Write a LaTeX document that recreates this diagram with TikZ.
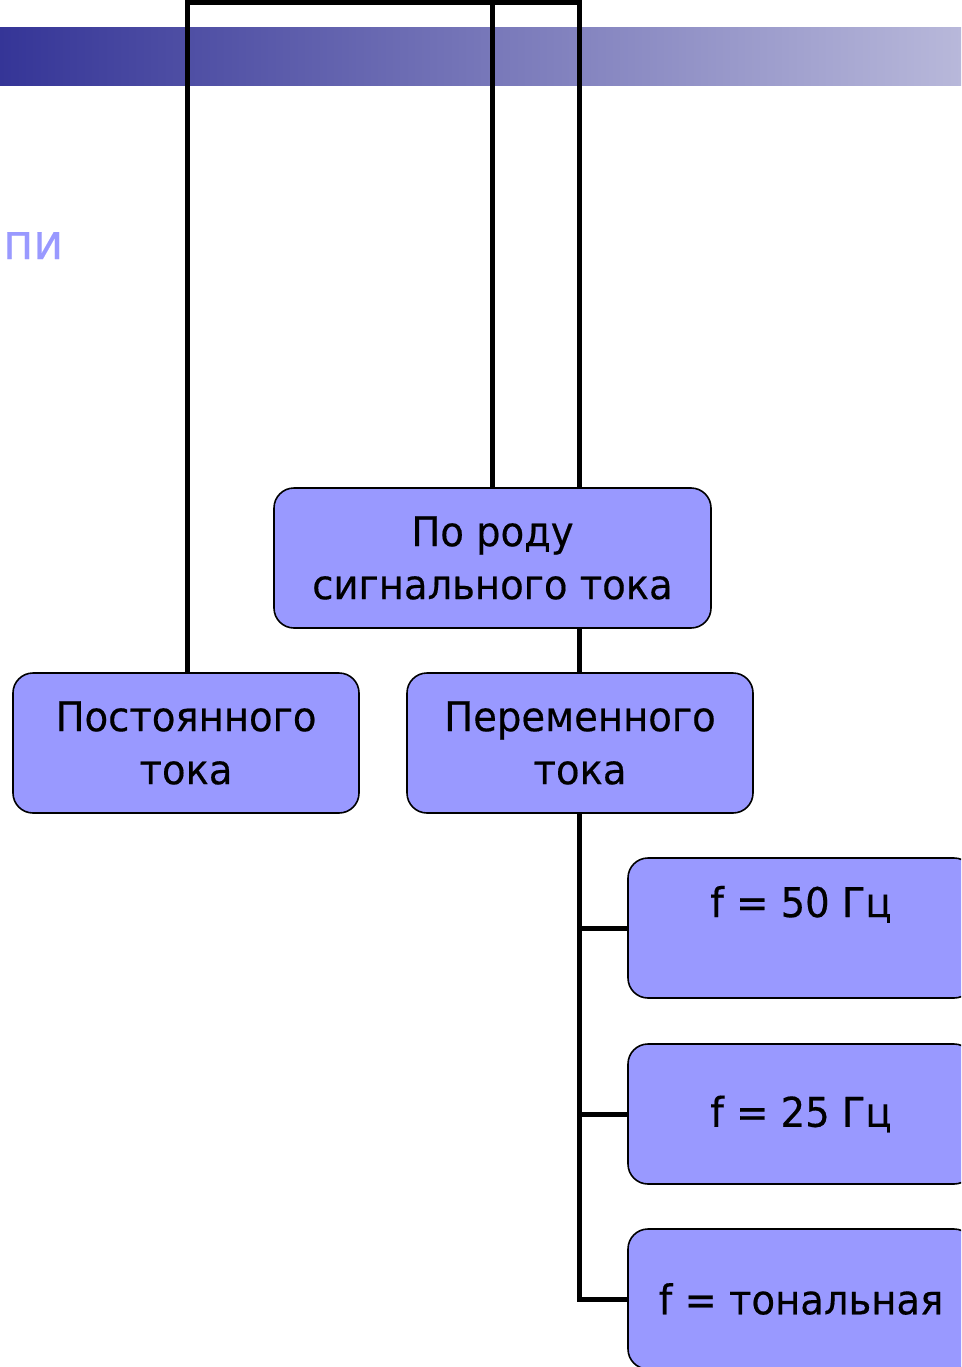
\documentclass[tikz,border=0pt]{standalone}
\usepackage{fontspec}
\setmainfont[FakeStretch=0.94,FakeBold=0.4]{DejaVu Sans}
\definecolor{boxfill}{HTML}{9999FF}
\definecolor{barleft}{HTML}{353597}
\definecolor{barright}{HTML}{B8B8DA}
\definecolor{pitext}{HTML}{9999FF}
\tikzset{
  box/.style={draw=black, line width=1.6pt, fill=boxfill, rounded corners=20pt,
    minimum width=346pt, minimum height=140pt, align=center, inner sep=0pt,
    font=\fontsize{41}{53}\selectfont},
  conn/.style={draw=black, line width=5pt},
}
\begin{document}
\begin{tikzpicture}[x=1pt,y=-1pt]
\useasboundingbox (0,0) rectangle (961,1367);
\clip (0,0) rectangle (961,1367);
\fill[left color=barleft, right color=barright] (0,28) rectangle (961,86);
\node[text=pitext, anchor=base west, inner sep=0pt, font=\fontsize{49}{60}\selectfont] (pi) at (3,259) {пи};

\node[box, minimum width=437pt] (rod) at (492.5,558) {По роду\\сигнального тока};
\node[box] (post) at (186,743) {Постоянного\\тока};
\node[box] (per) at (580,743) {Переменного\\тока};
\node[box] (f50) at (801,928) {f = 50 Гц\\\mbox{}};
\node[box] (f25) at (801,1114) {f = 25 Гц};
\node[box] (ft) at (801,1299) {f = тональная};

\coordinate (tl) at (187,3);
\coordinate (tm) at (492,3);
\coordinate (tr) at (579,3);
\draw[conn] (post.north -| tl) -- (tl) -- (tr) -- (tr |- rod.north);
\draw[conn] (tm) -- (tm |- rod.north);
\draw[conn] (rod.south -| tr) -- (per.north -| tr);
\draw[conn] (per.south -| tr) |- (ft.west);
\draw[conn] (per.south -| tr) |- (f50.west);
\draw[conn] (per.south -| tr) |- (f25.west);
\end{tikzpicture}
\end{document}
